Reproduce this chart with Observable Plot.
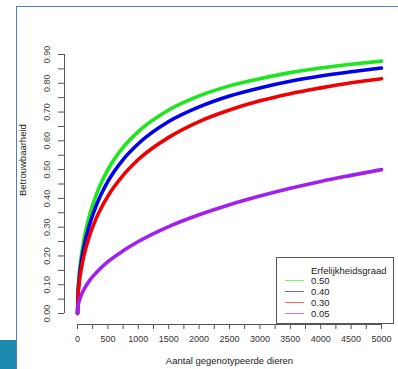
<!DOCTYPE html>
<html>
<head>
<meta charset="utf-8">
<script src="https://cdn.jsdelivr.net/npm/d3@7"></script>
<script src="https://cdn.jsdelivr.net/npm/@observablehq/plot@0.6"></script>
<style>
  body { margin: 0; background: #fff; font-family: "Liberation Sans", Arial, sans-serif; }
  #wrap { position: relative; width: 398px; height: 369px; overflow: hidden; }
  #wrap svg { position: absolute; left: 0; top: 0; }
  .deco { position: absolute; }
  #legend { position: absolute; left: 276px; top: 257px; width: 116px; height: 65px; border: 1px solid #555; background: #fff; font-size: 9.5px; color: #222; }
  #legend .t { position: absolute; left: 34px; line-height: 11px; white-space: nowrap; }
  #legend svg { position: absolute; left: 0; top: 0; }
</style>
</head>
<body>
<div id="wrap"></div>
<script>
// Number of genotyped animals
const N = [0, 10, 25, 50, 100, 200, 300, 500, 750, 1000, 1500, 2000, 2500, 3000, 3500, 4000, 4500, 5000];
// Reliability per heritability
const h050 = [0, 0.081, 0.128, 0.180, 0.250, 0.343, 0.408, 0.500, 0.577, 0.632, 0.707, 0.756, 0.791, 0.816, 0.837, 0.853, 0.866, 0.877];
const h040 = [0, 0.073, 0.115, 0.161, 0.225, 0.310, 0.371, 0.459, 0.535, 0.590, 0.667, 0.718, 0.756, 0.784, 0.807, 0.825, 0.840, 0.853];
const h030 = [0, 0.063, 0.100, 0.140, 0.196, 0.272, 0.327, 0.408, 0.480, 0.535, 0.612, 0.667, 0.707, 0.739, 0.764, 0.784, 0.802, 0.816];
const h005 = [0, 0.026, 0.041, 0.058, 0.081, 0.115, 0.140, 0.180, 0.218, 0.250, 0.302, 0.343, 0.378, 0.408, 0.435, 0.459, 0.480, 0.500];

const seriesNames = ["0.50", "0.40", "0.30", "0.05"];
const seriesValues = [h050, h040, h030, h005];
const seriesColors = ["#1ee61e", "#0000f0", "#f00000", "#a020f0"];

const xTicks = d3.range(0, 5001, 250);
const yTicks = d3.range(0, 0.901, 0.05).map(v => +v.toFixed(2));
const yLabels = d3.range(0, 0.901, 0.1).map(v => +v.toFixed(2));

const xTitle = "Aantal gegenotypeerde dieren";
const yTitle = "Betrouwbaarheid";
const legendTitle = "Erfelijkheidsgraad";

const rows = [];
seriesNames.forEach((s, i) => N.forEach((n, j) => rows.push({series: s, n, r: seriesValues[i][j]})));

const chart = Plot.plot({
  width: 398,
  height: 369,
  marginLeft: 77,
  marginRight: 17,
  marginTop: 54,
  marginBottom: 56,
  style: {fontFamily: "'Liberation Sans', Arial, sans-serif", fontSize: "9px", color: "#333", background: "transparent"},
  x: {domain: [0, 5000]},
  y: {domain: [0, 0.9]},
  color: {domain: seriesNames, range: seriesColors},
  marks: [
    Plot.ruleY([0], {x1: 0, x2: 5000, dy: 11, stroke: "#555"}),
    Plot.ruleX([0], {y1: 0, y2: 0.9, dx: -13, stroke: "#555"}),
    Plot.axisX({ticks: xTicks, tickSize: 5, tickPadding: 6, dy: 11, stroke: "#555", fill: "#333",
      tickFormat: d => d % 500 === 0 ? String(d) : "", label: null}),
    Plot.axisY({ticks: yTicks, tickSize: 6, dx: -13, stroke: "#555", tickFormat: () => "", label: null}),
    Plot.text(yLabels, {y: d => d, frameAnchor: "left", text: d => d.toFixed(2), rotate: -90, dx: -30, textAnchor: "middle", fill: "#444", fontSize: 9}),
    Plot.text([xTitle], {frameAnchor: "bottom", text: d => d, dy: 50, fill: "#222", fontSize: 9.5}),
    Plot.text([yTitle], {frameAnchor: "left", text: d => d, rotate: -90, dx: -55, dy: 12, fill: "#222", fontSize: 9.5}),
    Plot.line(rows, {x: "n", y: "r", z: "series", stroke: "series", strokeWidth: 3.6, curve: "monotone-x"})
  ]
});

const wrap = document.getElementById("wrap");
wrap.appendChild(chart);

// page decoration (slide frame)
const deco = [
  {l: 16, t: 6, w: 382, h: 1, c: "#4f7fbd"},
  {l: 16, t: 6, w: 1, h: 363, c: "#4f7fbd"},
  {l: 0, t: 340, w: 16, h: 29, c: "#1c8ab0"}
];
deco.forEach(d => {
  const el = document.createElement("div");
  el.className = "deco";
  el.style.cssText = `left:${d.l}px;top:${d.t}px;width:${d.w}px;height:${d.h}px;background:${d.c}`;
  wrap.appendChild(el);
});

// legend
const lg = document.createElement("div");
lg.id = "legend";
const ns = "http://www.w3.org/2000/svg";
const lsvg = document.createElementNS(ns, "svg");
lsvg.setAttribute("width", 116); lsvg.setAttribute("height", 65);
lg.appendChild(lsvg);
const title = document.createElement("div");
title.className = "t"; title.style.top = "7px"; title.textContent = legendTitle;
lg.appendChild(title);
seriesNames.forEach((s, i) => {
  const cy = 22.5 + i * 11;
  const ln = document.createElementNS(ns, "line");
  ln.setAttribute("x1", 8); ln.setAttribute("x2", 27);
  ln.setAttribute("y1", cy); ln.setAttribute("y2", cy);
  ln.setAttribute("stroke", seriesColors[i]); ln.setAttribute("stroke-width", 1);
  ln.setAttribute("stroke-opacity", 0.6);
  lsvg.appendChild(ln);
  const t = document.createElement("div");
  t.className = "t"; t.style.top = (cy - 5.5) + "px"; t.textContent = s;
  lg.appendChild(t);
});
wrap.appendChild(lg);
</script>
</body>
</html>
